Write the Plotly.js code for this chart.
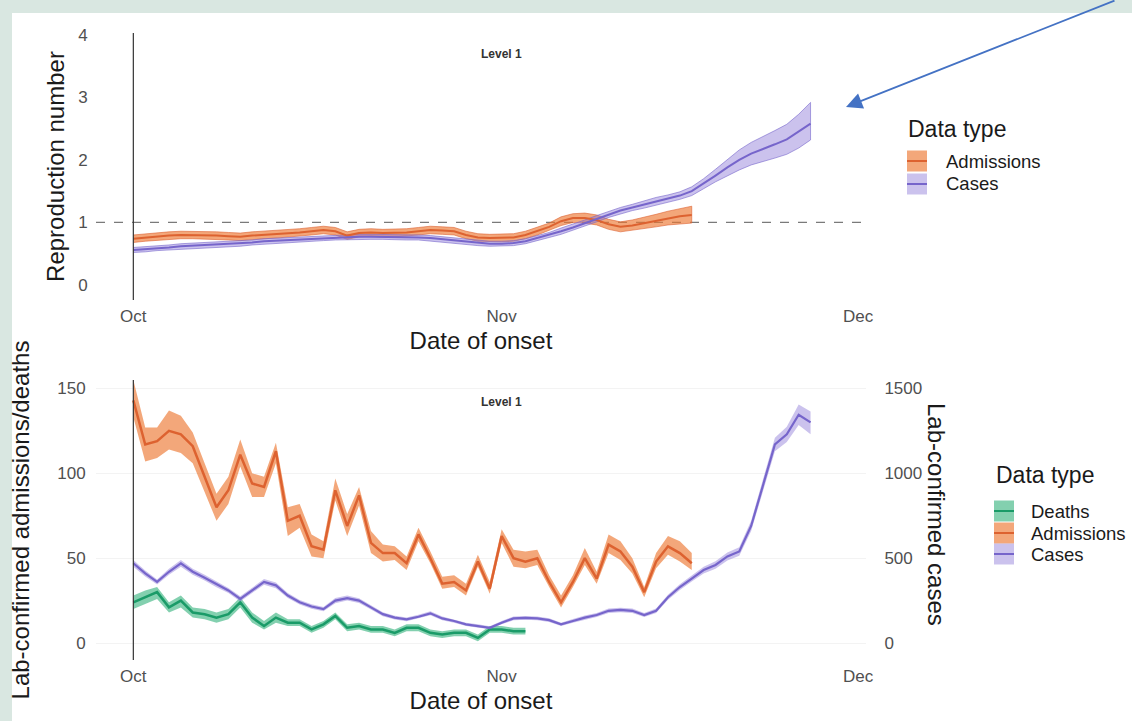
<!DOCTYPE html>
<html><head><meta charset="utf-8">
<script src="https://cdn.plot.ly/plotly-3.0.1.min.js"></script>
<style>html,body{margin:0;padding:0;background:#fff}</style>
</head><body><div id="chart" style="width:1132px;height:721px"></div>
<script>
// ---------- data ----------
const startDate = '2020-10-01';
const tickVals = ['2020-10-01', '2020-11-01', '2020-12-01'];
const tickText = ['Oct', 'Nov', 'Dec'];
const levelLabel = 'Level 1';
const seriesNames = ['Deaths', 'Admissions', 'Cases'];

// Top panel: reproduction number
const rAdm = [0.74,0.76,0.78,0.79,0.80,0.80,0.79,0.79,0.78,0.77,0.79,0.80,0.81,0.82,0.84,0.86,0.88,0.86,0.79,0.83,0.84,0.83,0.83,0.84,0.86,0.88,0.87,0.86,0.80,0.76,0.75,
              0.75,0.76,0.80,0.86,0.93,1.02,1.07,1.07,1.04,0.97,0.93,0.95,0.99,1.03,1.07,1.10,1.12];
const rAdmLo = [0.68,0.70,0.72,0.73,0.74,0.74,0.73,0.73,0.72,0.71,0.73,0.74,0.75,0.76,0.78,0.80,0.82,0.80,0.73,0.77,0.78,0.77,0.77,0.78,0.80,0.82,0.81,0.80,0.74,0.70,0.69,
                0.69,0.70,0.74,0.80,0.87,0.95,1.00,0.99,0.96,0.89,0.85,0.87,0.90,0.93,0.96,0.98,0.99];
const rAdmHi = [0.80,0.82,0.84,0.85,0.86,0.86,0.85,0.85,0.84,0.83,0.85,0.86,0.87,0.88,0.90,0.92,0.94,0.92,0.85,0.89,0.90,0.89,0.89,0.90,0.92,0.94,0.93,0.92,0.86,0.82,0.81,
                0.81,0.82,0.86,0.92,0.99,1.09,1.14,1.15,1.12,1.05,1.01,1.04,1.08,1.13,1.18,1.22,1.26];
const rCases = [0.56,0.57,0.59,0.60,0.62,0.63,0.64,0.64,0.65,0.66,0.68,0.70,0.71,0.72,0.73,0.74,0.75,0.76,0.77,0.77,0.77,0.77,0.77,0.76,0.76,0.75,0.73,0.71,0.69,0.67,0.66,
                0.66,0.67,0.70,0.75,0.80,0.86,0.92,0.99,1.06,1.13,1.19,1.24,1.29,1.34,1.38,1.43,1.50,1.62,1.75,1.88,2.00,2.10,2.17,2.25,2.33,2.46,2.58];
const rCasesLo = [0.52,0.53,0.55,0.56,0.58,0.59,0.60,0.60,0.61,0.62,0.64,0.66,0.67,0.68,0.69,0.70,0.71,0.72,0.73,0.73,0.73,0.73,0.73,0.72,0.72,0.71,0.69,0.67,0.65,0.63,0.62,
                  0.62,0.63,0.66,0.71,0.76,0.81,0.87,0.94,1.01,1.08,1.14,1.19,1.23,1.28,1.32,1.37,1.43,1.54,1.65,1.75,1.84,1.92,1.97,2.03,2.09,2.19,2.32];
const rCasesHi = [0.60,0.61,0.63,0.64,0.66,0.67,0.68,0.68,0.69,0.70,0.72,0.74,0.75,0.76,0.77,0.78,0.79,0.80,0.81,0.81,0.81,0.81,0.81,0.80,0.80,0.79,0.77,0.75,0.73,0.71,0.70,
                  0.70,0.71,0.74,0.79,0.84,0.91,0.97,1.04,1.11,1.18,1.24,1.29,1.35,1.40,1.44,1.49,1.57,1.70,1.85,2.01,2.16,2.28,2.37,2.47,2.57,2.73,2.92];

// Bottom panel: counts
const admissions = [143,117,119,125,123,116,98,80,90,111,94,92,113,72,75,57,55,90,69,87,59,53,53,47,64,50,35,36,31,48,32,
                    63,50,48,50,36,24,36,50,38,58,54,45,30,48,57,53,47];
const admissionsLo = [133,107,109,114,112,106,89,72,82,104,86,86,106,63,68,51,50,84,63,81,53,48,49,43,60,47,32,33,28,45,29,
                      59,45,44,46,33,21,33,46,35,53,49,41,27,44,52,48,43];
const admissionsHi = [155,127,127,137,134,124,106,88,98,120,100,98,118,80,82,64,60,97,76,92,66,58,57,51,68,54,39,40,35,52,36,
                      67,55,54,55,40,28,40,56,42,64,60,50,33,53,63,60,53];
const deaths = [24,27,30,21,25,18,17,15,17,24,15,10,15,12,12,8,11,16,9,10,8,8,6,9,9,6,5,6,6,3,8,
                8,7,7];
const deathsLo = [20,23,26,18,21,15,14,12,14,21,12,8,12,10,10,6,9,14,7,8,6,6,4,7,7,4,3,4,4,1,6,
                  6,5,5];
const deathsHi = [28,31,33,24,28,21,20,18,20,27,18,13,18,14,14,10,13,18,11,12,10,10,8,11,11,8,7,8,8,5,10,
                  10,9,9];
const cases = [470,410,360,420,470,420,385,345,310,260,310,360,340,280,240,215,200,250,265,250,210,170,150,140,155,175,145,130,110,100,90,
               120,145,148,145,135,110,130,150,165,190,195,190,165,190,270,330,380,430,460,510,540,690,930,1170,1230,1345,1300];
const casesLo = [450,392,345,402,450,402,368,328,295,245,295,343,323,265,227,202,187,235,250,236,197,158,139,129,144,163,134,120,100,90,81,
                 110,134,137,134,124,100,119,138,153,177,182,177,153,177,255,313,362,410,438,487,515,660,895,1130,1185,1285,1230];
const casesHi = [490,428,375,438,490,438,402,362,325,275,325,377,357,295,253,228,213,265,280,264,223,182,161,151,166,187,156,140,120,110,99,
                 130,156,159,156,146,120,141,162,177,203,208,203,177,203,285,347,398,450,482,533,565,720,965,1210,1275,1405,1365];

// ---------- helpers ----------
function dates(n) {
  const out = [];
  const d0 = new Date(startDate + 'T00:00:00Z').getTime();
  for (let i = 0; i < n; i++) out.push(new Date(d0 + i * 86400000).toISOString().slice(0, 10));
  return out;
}
const COL = {
  Deaths:     {line: '#1A9B68', band: 'rgba(30,170,110,0.55)'},
  Admissions: {line: '#DD6230', band: 'rgba(236,120,50,0.65)'},
  Cases:      {line: '#7665CB', band: 'rgba(140,120,215,0.45)'}
};
function band(vals, lo, hi, name, xa, ya, edge) {
  const x = dates(vals.length);
  return {
    x: x.concat(x.slice().reverse()),
    y: hi.concat(lo.slice().reverse()),
    xaxis: xa, yaxis: ya, type: 'scatter', mode: 'lines', fill: 'toself',
    fillcolor: COL[name].band,
    line: {color: edge ? COL[name].line : 'rgba(0,0,0,0)', width: edge ? 0.6 : 0},
    hoverinfo: 'skip', showlegend: false
  };
}
function line(vals, name, xa, ya, w) {
  return {x: dates(vals.length), y: vals, xaxis: xa, yaxis: ya, type: 'scatter', mode: 'lines',
          name: name, line: {color: COL[name].line, width: w}, showlegend: false};
}

const traces = [
  band(rAdm, rAdmLo, rAdmHi, 'Admissions', 'x', 'y', true),
  band(rCases, rCasesLo, rCasesHi, 'Cases', 'x', 'y', true),
  line(rAdm, 'Admissions', 'x', 'y', 2),
  line(rCases, 'Cases', 'x', 'y', 2),
  band(cases, casesLo, casesHi, 'Cases', 'x2', 'y3', false),
  band(deaths, deathsLo, deathsHi, 'Deaths', 'x2', 'y2', false),
  band(admissions, admissionsLo, admissionsHi, 'Admissions', 'x2', 'y2', false),
  line(cases, 'Cases', 'x2', 'y3', 2.2),
  line(deaths, 'Deaths', 'x2', 'y2', 2.5),
  line(admissions, 'Admissions', 'x2', 'y2', 2.5)
];

// ---------- layout ----------
const W = 1132, H = 721, ML = 96, MR = 266, MT = 33, MB = 61;
const px = v => (v - ML) / (W - ML - MR);
const py = v => (H - MB - v) / (H - MT - MB);
const xRange = ['2020-09-27 20:35', '2020-12-01 16:00'];
const FONT = 'Liberation Sans, Arial, Helvetica, sans-serif';
const tickFont = {family: FONT, size: 17, color: '#505050'};
const titleFont = {family: FONT, size: 24, color: '#1a1a1a'};

function xaxisDef(anchor) {
  return {type: 'date', range: xRange, anchor: anchor, tickvals: tickVals, ticktext: tickText,
          tickfont: {family: FONT, size: 17, color: '#505050'}, ticks: 'outside', ticklen: 1, tickcolor: 'rgba(0,0,0,0)',
          showgrid: false, zeroline: false, showline: false, fixedrange: true,
          title: {text: 'Date of onset', font: titleFont, standoff: 6}};
}

const shapes = [
  // page white area over the mint photo border
  {type: 'rect', xref: 'paper', yref: 'paper', x0: px(12), x1: px(1132), y0: py(721), y1: py(13),
   fillcolor: '#ffffff', line: {width: 0}, layer: 'below'},
  // R = 1 reference
  {type: 'line', xref: 'x domain', yref: 'y', x0: 0, x1: 1, y0: 1, y1: 1,
   line: {color: '#7a7a7a', width: 1.3, dash: 'dash'}, layer: 'below'},
  // level start markers
  {type: 'line', xref: 'x', yref: 'y domain', x0: tickVals[0], x1: tickVals[0], y0: 0, y1: 1,
   line: {color: '#333333', width: 1.2}},
  {type: 'line', xref: 'x2', yref: 'y2 domain', x0: tickVals[0], x1: tickVals[0], y0: 0, y1: 1,
   line: {color: '#333333', width: 1.2}}
];
const annotations = [
  {xref: 'x', yref: 'paper', x: tickVals[1], y: py(45), text: '<b>' + levelLabel + '</b>', showarrow: false,
   font: {family: FONT, size: 12, color: '#333'}},
  {xref: 'x2', yref: 'paper', x: tickVals[1], y: py(402), text: '<b>' + levelLabel + '</b>', showarrow: false,
   font: {family: FONT, size: 12, color: '#333'}},
  {xref: 'paper', yref: 'paper', x: px(937), y: py(514), text: 'Lab-confirmed cases', textangle: 90,
   showarrow: false, font: titleFont, xanchor: 'center', yanchor: 'middle'},
  // arrow
  {xref: 'paper', yref: 'paper', x: px(846), y: py(107), ax: 270, ay: -108, text: '', showarrow: true,
   arrowhead: 2, arrowsize: 1.8, arrowwidth: 1.8, arrowcolor: '#4472C4'}
];

// legends (drawn as keys + labels)
function legend(items, titleX, titleY, keyX, textX, rowYs) {
  annotations.push({xref: 'paper', yref: 'paper', x: px(titleX), y: py(titleY), text: 'Data type',
    showarrow: false, xanchor: 'left', yanchor: 'middle', font: {family: FONT, size: 23, color: '#1a1a1a'}});
  items.forEach((nm, i) => {
    const yc = rowYs[i];
    shapes.push({type: 'rect', xref: 'paper', yref: 'paper', x0: px(keyX), x1: px(keyX + 20), y0: py(yc + 10.5), y1: py(yc - 10.5),
      fillcolor: COL[nm].band, line: {width: 0}});
    shapes.push({type: 'line', xref: 'paper', yref: 'paper', x0: px(keyX), x1: px(keyX + 20), y0: py(yc), y1: py(yc),
      line: {color: COL[nm].line, width: 2}});
    annotations.push({xref: 'paper', yref: 'paper', x: px(textX), y: py(yc), text: nm, showarrow: false,
      xanchor: 'left', yanchor: 'middle', font: {family: FONT, size: 18.5, color: '#1a1a1a'}});
  });
}
legend(['Admissions', 'Cases'], 906, 129, 907, 944, [161, 184]);
legend(['Deaths', 'Admissions', 'Cases'], 994, 475, 994, 1029, [511, 533, 554]);

const layout = {
  width: W, height: H, margin: {l: ML, r: MR, t: MT, b: MB},
  paper_bgcolor: '#d9e7e1', plot_bgcolor: 'rgba(0,0,0,0)',
  font: {family: FONT, color: '#505050'},
  showlegend: false,
  xaxis: xaxisDef('y'),
  xaxis2: xaxisDef('y2'),
  yaxis: {domain: [py(300), 1], range: [-0.24, 4.03], tickvals: [0, 1, 2, 3, 4], tickfont: tickFont,
          ticks: 'outside', ticklen: 4, tickcolor: 'rgba(0,0,0,0)',
          showgrid: false, zeroline: false, showline: false, fixedrange: true,
          title: {text: 'Reproduction number', font: titleFont, standoff: 6}},
  yaxis2: {domain: [0, py(380)], range: [-10, 155], tickvals: [0, 50, 100, 150], tickfont: tickFont,
           ticks: 'outside', ticklen: 6, tickcolor: 'rgba(0,0,0,0)', anchor: 'x2',
           showgrid: true, gridcolor: '#f3f3f3', zeroline: false, showline: false, fixedrange: true,
           title: {text: 'Lab-confirmed admissions/deaths', font: titleFont, standoff: 20}},
  yaxis3: {overlaying: 'y2', side: 'right', anchor: 'x2', range: [-100, 1550], tickvals: [0, 500, 1000, 1500],
           tickfont: tickFont, ticks: 'outside', ticklen: 14, tickcolor: 'rgba(0,0,0,0)',
           showgrid: false, zeroline: false, showline: false, fixedrange: true},
  shapes: shapes,
  annotations: annotations
};

Plotly.newPlot('chart', traces, layout, {displayModeBar: false, staticPlot: true});
</script>
</body></html>
